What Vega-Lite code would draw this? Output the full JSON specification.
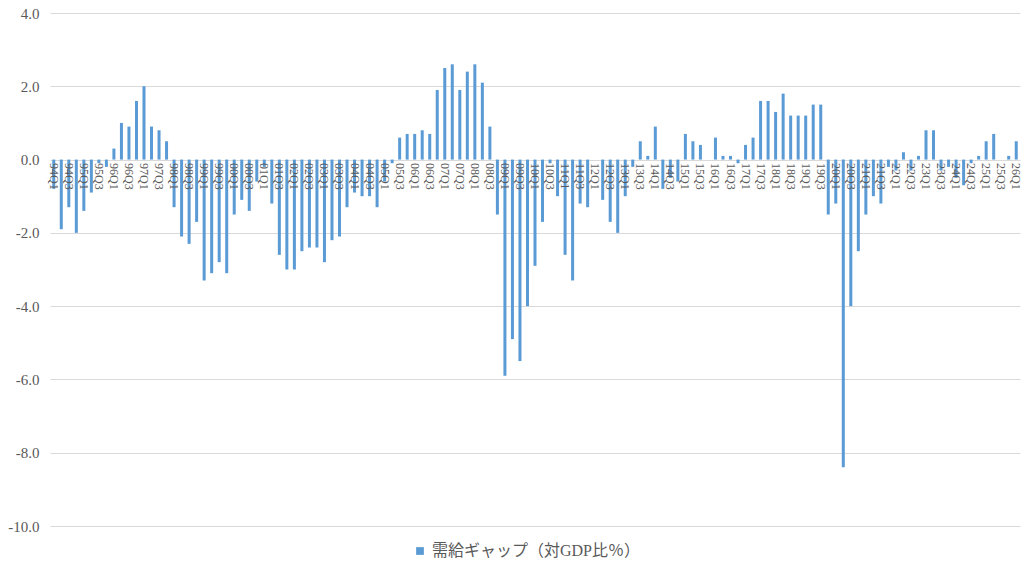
{
  "$schema": "https://vega.github.io/schema/vega-lite/v6.json",
  "width": 970,
  "height": 513,
  "autosize": {"type": "none"},
  "padding": {"left": 50, "top": 13, "right": 12, "bottom": 49},
  "background": "white",
  "data": {
    "values": [
      {"q": "94Q1", "v": -0.8}, {"q": "94Q2", "v": -1.9}, {"q": "94Q3", "v": -1.3}, {"q": "94Q4", "v": -2.0},
      {"q": "95Q1", "v": -1.4}, {"q": "95Q2", "v": -0.9}, {"q": "95Q3", "v": -0.1}, {"q": "95Q4", "v": -0.2},
      {"q": "96Q1", "v": 0.3}, {"q": "96Q2", "v": 1.0}, {"q": "96Q3", "v": 0.9}, {"q": "96Q4", "v": 1.6},
      {"q": "97Q1", "v": 2.0}, {"q": "97Q2", "v": 0.9}, {"q": "97Q3", "v": 0.8}, {"q": "97Q4", "v": 0.5},
      {"q": "98Q1", "v": -1.3}, {"q": "98Q2", "v": -2.1}, {"q": "98Q3", "v": -2.3}, {"q": "98Q4", "v": -1.7},
      {"q": "99Q1", "v": -3.3}, {"q": "99Q2", "v": -3.1}, {"q": "99Q3", "v": -2.8}, {"q": "99Q4", "v": -3.1},
      {"q": "00Q1", "v": -1.5}, {"q": "00Q2", "v": -1.1}, {"q": "00Q3", "v": -1.4}, {"q": "00Q4", "v": -0.6},
      {"q": "01Q1", "v": -0.2}, {"q": "01Q2", "v": -1.2}, {"q": "01Q3", "v": -2.6}, {"q": "01Q4", "v": -3.0},
      {"q": "02Q1", "v": -3.0}, {"q": "02Q2", "v": -2.5}, {"q": "02Q3", "v": -2.4}, {"q": "02Q4", "v": -2.4},
      {"q": "03Q1", "v": -2.8}, {"q": "03Q2", "v": -2.2}, {"q": "03Q3", "v": -2.1}, {"q": "03Q4", "v": -1.3},
      {"q": "04Q1", "v": -0.9}, {"q": "04Q2", "v": -1.0}, {"q": "04Q3", "v": -1.0}, {"q": "04Q4", "v": -1.3},
      {"q": "05Q1", "v": -0.6}, {"q": "05Q2", "v": -0.1}, {"q": "05Q3", "v": 0.6}, {"q": "05Q4", "v": 0.7},
      {"q": "06Q1", "v": 0.7}, {"q": "06Q2", "v": 0.8}, {"q": "06Q3", "v": 0.7}, {"q": "06Q4", "v": 1.9},
      {"q": "07Q1", "v": 2.5}, {"q": "07Q2", "v": 2.6}, {"q": "07Q3", "v": 1.9}, {"q": "07Q4", "v": 2.4},
      {"q": "08Q1", "v": 2.6}, {"q": "08Q2", "v": 2.1}, {"q": "08Q3", "v": 0.9}, {"q": "08Q4", "v": -1.5},
      {"q": "09Q1", "v": -5.9}, {"q": "09Q2", "v": -4.9}, {"q": "09Q3", "v": -5.5}, {"q": "09Q4", "v": -4.0},
      {"q": "10Q1", "v": -2.9}, {"q": "10Q2", "v": -1.7}, {"q": "10Q3", "v": -0.1}, {"q": "10Q4", "v": -1.0},
      {"q": "11Q1", "v": -2.6}, {"q": "11Q2", "v": -3.3}, {"q": "11Q3", "v": -1.2}, {"q": "11Q4", "v": -1.3},
      {"q": "12Q1", "v": 0.0}, {"q": "12Q2", "v": -1.1}, {"q": "12Q3", "v": -1.7}, {"q": "12Q4", "v": -2.0},
      {"q": "13Q1", "v": -1.0}, {"q": "13Q2", "v": -0.2}, {"q": "13Q3", "v": 0.5}, {"q": "13Q4", "v": 0.1},
      {"q": "14Q1", "v": 0.9}, {"q": "14Q2", "v": -0.8}, {"q": "14Q3", "v": -0.5}, {"q": "14Q4", "v": -0.6},
      {"q": "15Q1", "v": 0.7}, {"q": "15Q2", "v": 0.5}, {"q": "15Q3", "v": 0.4}, {"q": "15Q4", "v": 0.0},
      {"q": "16Q1", "v": 0.6}, {"q": "16Q2", "v": 0.1}, {"q": "16Q3", "v": 0.1}, {"q": "16Q4", "v": -0.1},
      {"q": "17Q1", "v": 0.4}, {"q": "17Q2", "v": 0.6}, {"q": "17Q3", "v": 1.6}, {"q": "17Q4", "v": 1.6},
      {"q": "18Q1", "v": 1.3}, {"q": "18Q2", "v": 1.8}, {"q": "18Q3", "v": 1.2}, {"q": "18Q4", "v": 1.2},
      {"q": "19Q1", "v": 1.2}, {"q": "19Q2", "v": 1.5}, {"q": "19Q3", "v": 1.5}, {"q": "19Q4", "v": -1.5},
      {"q": "20Q1", "v": -1.2}, {"q": "20Q2", "v": -8.4}, {"q": "20Q3", "v": -4.0}, {"q": "20Q4", "v": -2.5},
      {"q": "21Q1", "v": -1.5}, {"q": "21Q2", "v": -1.0}, {"q": "21Q3", "v": -1.2}, {"q": "21Q4", "v": -0.2},
      {"q": "22Q1", "v": -0.3}, {"q": "22Q2", "v": 0.2}, {"q": "22Q3", "v": -0.3}, {"q": "22Q4", "v": 0.1},
      {"q": "23Q1", "v": 0.8}, {"q": "23Q2", "v": 0.8}, {"q": "23Q3", "v": -0.3}, {"q": "23Q4", "v": -0.2},
      {"q": "24Q1", "v": -0.5}, {"q": "24Q2", "v": -0.7}, {"q": "24Q3", "v": -0.1}, {"q": "24Q4", "v": 0.1},
      {"q": "25Q1", "v": 0.5}, {"q": "25Q2", "v": 0.7}, {"q": "25Q3", "v": 0.0}, {"q": "25Q4", "v": 0.1},
      {"q": "26Q1", "v": 0.5}
    ]
  },
  "transform": [{"calculate": "'需給ギャップ（対GDP比％）'", "as": "series"}],
  "mark": {"type": "bar"},
  "encoding": {
    "x": {
      "field": "q",
      "type": "nominal",
      "sort": null,
      "title": null,
      "scale": {"paddingInner": 0.6, "paddingOuter": 0.3},
      "axis": {
        "offset": -366.4,
        "labelAngle": 90,
        "labelOverlap": false,
        "labelExpr": "slice(datum.value, 3) == '1' || slice(datum.value, 3) == '3' ? datum.value : ''",
        "labelFont": "'Liberation Serif', serif",
        "labelFontSize": 12,
        "labelColor": "#595959",
        "labelPadding": 3,
        "ticks": false,
        "domain": false,
        "grid": false,
        "zindex": 1
      }
    },
    "y": {
      "field": "v",
      "type": "quantitative",
      "title": null,
      "scale": {"domain": [-10, 4], "nice": false},
      "axis": {
        "values": [-10, -8, -6, -4, -2, 0, 2, 4],
        "labelExpr": "replace(format(datum.value, '.1f'), '\u2212', '-')",
        "labelFont": "'Liberation Serif', serif",
        "labelFontSize": 15,
        "labelColor": "#595959",
        "labelPadding": 11,
        "ticks": false,
        "domain": false,
        "gridColor": "#D9D9D9",
        "gridWidth": 1
      }
    },
    "color": {
      "field": "series",
      "type": "nominal",
      "scale": {"range": ["#5B9BD5"]},
      "legend": {
        "title": null,
        "orient": "none",
        "legendX": 362,
        "legendY": 530,
        "symbolType": "square",
        "symbolSize": 60,
        "labelFont": "'Liberation Serif', 'Noto Sans CJK JP'",
        "labelFontSize": 16,
        "labelColor": "#595959",
        "labelLimit": 400
      }
    }
  },
  "config": {"view": {"stroke": null}}
}
